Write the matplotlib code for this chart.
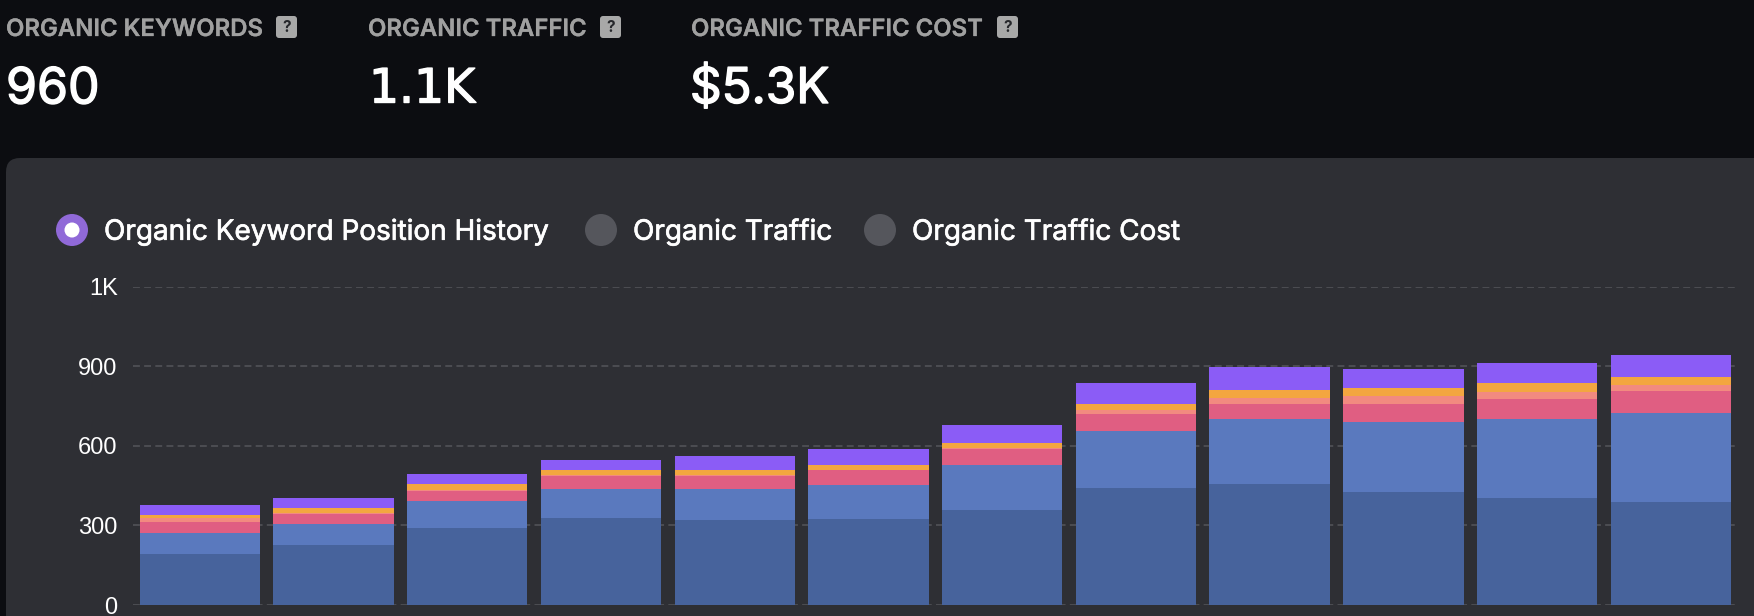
"""Organic search overview: headline stats above a stacked keyword-position bar chart."""

import matplotlib

matplotlib.use("Agg")

import matplotlib.patheffects as pe
import matplotlib.pyplot as plt
import numpy as np
from matplotlib.patches import Circle, FancyBboxPatch

WIDTH, HEIGHT = 1754, 616

PAGE_BG = "#0c0d11"
PANEL_BG = "#2e2f34"
GRID = "#55565b"

# keywords per position bucket, bottom of the stack first
pos_1 = [191, 225, 290, 327, 321, 325, 359, 442, 457, 427, 404, 389]
pos_2 = [82, 82, 100, 109, 116, 126, 167, 215, 242, 264, 296, 333]
pos_3 = [39, 36, 41, 49, 50, 57, 63, 63, 59, 68, 77, 83]
pos_4 = [15, 3, 3, 4, 4, 2, 3, 14, 22, 28, 25, 25]
pos_5 = [13, 19, 21, 20, 19, 16, 18, 24, 29, 29, 36, 30]
pos_6 = [38, 38, 37, 38, 50, 61, 69, 77, 88, 74, 73, 83]

series = [pos_1, pos_2, pos_3, pos_4, pos_5, pos_6]
series_colors = ["#47639c", "#5a79be", "#e05e82", "#f28a80", "#f3a640", "#8b5cf6"]

y_ticks = [0, 300, 600, 900, 1200]
y_labels = ["0", "300", "600", "900", "1K"]

stat_titles = ["ORGANIC KEYWORDS", "ORGANIC TRAFFIC", "ORGANIC TRAFFIC COST"]
stat_values = ["960", "1.1K", "$5.3K"]
stat_title_x = [6, 368, 691]
stat_value_x = [6, 369, 690]
stat_value_size = [36, 34, 35.5]
# the traffic figure needs a "1" with a foot, which Inter only has as an alternate
stat_value_font = ["Inter", "DejaVu Sans", "Inter"]
help_icon_x = [276, 600, 997]

radio_labels = ["Organic Keyword Position History", "Organic Traffic", "Organic Traffic Cost"]
radio_x = [72, 601, 880]
radio_label_x = [104, 633, 912]

plt.rcParams["font.family"] = ["Inter", "DejaVu Sans"]

fig = plt.figure(figsize=(WIDTH / 100, HEIGHT / 100), dpi=100, facecolor=PAGE_BG)

# page furniture is laid out in pixels, y pointing down
bg = fig.add_axes([0, 0, 1, 1], zorder=0)
bg.set_xlim(0, WIDTH)
bg.set_ylim(HEIGHT, 0)
bg.axis("off")

bg.add_patch(
    FancyBboxPatch(
        (6, 158),
        WIDTH + 100,
        HEIGHT,
        boxstyle="round,pad=0,rounding_size=14",
        facecolor=PANEL_BG,
        edgecolor="none",
    )
)


def heavier(color, width=0.5):
    # thin outline in the text colour, the installed Inter runs a little light
    return [pe.withStroke(linewidth=width, foreground=color)]


for title, value, tx, vx, ix, size, font in zip(
    stat_titles, stat_values, stat_title_x, stat_value_x, help_icon_x, stat_value_size, stat_value_font
):
    bg.text(
        tx,
        30,
        title,
        color="#a0a0a0",
        fontsize=17.2,
        fontweight="semibold",
        va="center",
        path_effects=heavier("#a0a0a0", 0.2),
    )
    bg.text(
        vx,
        90,
        value,
        color="white",
        fontsize=size,
        family=font,
        va="center",
        path_effects=heavier("white", 1.0),
    )
    bg.add_patch(
        FancyBboxPatch(
            (ix, 16),
            21,
            22,
            boxstyle="round,pad=0,rounding_size=3",
            facecolor="#a8a8a8",
            edgecolor="none",
        )
    )
    bg.text(ix + 10.5, 27, "?", color="#26272b", fontsize=11, fontweight="bold", ha="center", va="center")

for i, (label, cx, lx) in enumerate(zip(radio_labels, radio_x, radio_label_x)):
    if i == 0:
        bg.add_patch(Circle((cx, 230), 16, facecolor="#9069d8", edgecolor="none"))
        bg.add_patch(Circle((cx, 230), 7.5, facecolor="white", edgecolor="none"))
    else:
        bg.add_patch(Circle((cx, 230), 16, facecolor="#55565c", edgecolor="none"))
    bg.text(
        lx,
        232,
        label,
        color="white",
        fontsize=20.1,
        va="center",
        path_effects=heavier("white"),
    )

# chart axes: pixel box converted to figure fractions
left, right, top, bottom = 133, 1734.6, 286.5, 605
ax = fig.add_axes(
    [left / WIDTH, 1 - bottom / HEIGHT, (right - left) / WIDTH, (bottom - top) / HEIGHT],
    zorder=1,
)
ax.patch.set_alpha(0)
for spine in ax.spines.values():
    spine.set_visible(False)

x = np.arange(len(pos_1))
base = np.zeros(len(x))
for values, color in zip(series, series_colors):
    ax.bar(x, values, width=0.9, bottom=base, color=color, linewidth=0, zorder=2)
    base += np.array(values)

ax.set_xlim(-0.5, 11.477)
ax.set_ylim(0, 1200)
ax.set_xticks([])
ax.set_yticks(y_ticks, y_labels, family=["Liberation Sans"])
ax.tick_params(axis="y", length=0, pad=11, labelsize=17, labelcolor="white")
ax.grid(axis="y", color=GRID, linewidth=1.1, linestyle=(0, (4.5, 2.8)), zorder=1)
ax.set_axisbelow(True)

fig.savefig("out.png", dpi=100, facecolor=PAGE_BG)
plt.close(fig)
